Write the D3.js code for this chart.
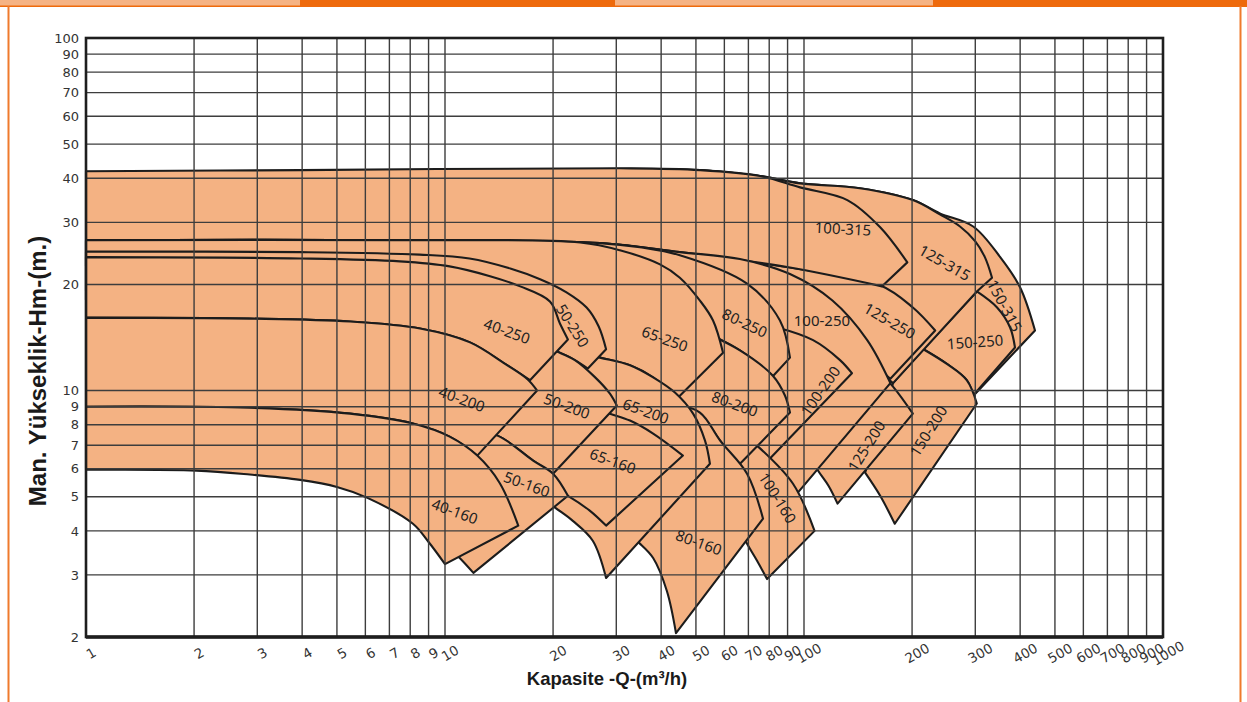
<!DOCTYPE html>
<html>
<head>
<meta charset="utf-8">
<script src="https://cdn.jsdelivr.net/npm/d3@7"></script>
<style>
  body { margin: 0; background: #fff; }
  svg { display: block; }
</style>
</head>
<body>
<div id="chart"></div>
<script>
// pump models, in drawing order (right-hand families first, big casings first)
const modelNames = ['150-315','150-250','150-200','125-315','125-250','125-200',
  '100-315','100-250','100-200','100-160','80-250','80-200','80-160',
  '65-250','65-200','65-160','50-250','50-200','50-160','40-250','40-200','40-160'];

// upper curve of each field, [Q m3/h, H m], left to right
const maxCurves = [
  [[51.3,42.2],[75.4,40.6],[97.5,38.7],[143,37.5],[201,34.7],[239,31.8],[296,29.2],[352,23.9],[400,19.6],[440,14.8]],
  [[303,19.1],[345,17.2],[375,15.1],[387,13.25]],
  [[215,13.1],[250,11.9],[284,10.7],[303,9.19]],
  [[27,42.5],[51.3,42.2],[75.4,40.6],[97.5,38.7],[143,37.5],[201,34.7],[239,31.6],[272,29.2],[300,26.5],[319,23.9],[334,20.9]],
  [[27,26.2],[45.1,24.7],[89.7,22.4],[163,19.9],[201,17.2],[232,14.8]],
  [[126,13.9],[153,12.0],[177,10.26],[201,8.6]],
  [[1,41.9],[3.95,42.2],[30.7,42.7],[51.3,42.2],[75.4,40.6],[97.5,37.7],[132,34.7],[163,29.05],[194,23.1]],
  [[1,26.7],[7.49,26.7],[27,26.2],[45.1,24.7],[66.3,23.6],[91.4,21.4],[120,18.0],[150,13.9],[174,10.5]],
  [[66.3,15.8],[84.1,15.1],[106,13.9],[126,12.2],[136,11.2]],
  [[60.2,8.22],[74,6.98],[93.2,5.44],[107,4.0]],
  [[1,26.7],[7.49,26.7],[27,26.2],[34.9,25.5],[45.1,24.2],[69.4,20.1],[85.7,15.8],[91.4,12.4]],
  [[51.3,14.8],[66.3,13.0],[82,11.0],[88.5,9.68],[91.4,8.66]],
  [[42.3,9.25],[51.3,8.66],[58.4,7.21],[69.4,5.81],[76.9,4.33]],
  [[1,26.7],[7.49,26.7],[23.8,26.3],[30.7,25.0],[39.7,22.8],[45.1,20.9],[51.3,18.0],[55.8,15.8],[59.5,12.8]],
  [[22.3,13.0],[27,12.4],[32.75,11.8],[38,10.9],[43.7,9.87],[49.1,8.6],[53,7.21],[54.7,6.2]],
  [[22.3,9.37],[28.8,8.6],[32.75,8.22],[38,7.55],[46,6.54]],
  [[1,24.8],[3.95,24.7],[8.5,24.3],[11.7,23.7],[15.2,22.2],[18.4,20.7],[21.8,19.0],[24.8,17.2],[26.8,15.2],[28.1,13.1]],
  [[16.2,14.15],[20.5,12.9],[23,12.2],[26.2,10.9],[28.8,9.8],[30.1,9.07]],
  [[11,7.8],[14,7.45],[17.6,6.33],[20,5.81],[22,5.03]],
  [[1,23.9],[3.95,23.7],[7.49,23.25],[10.3,22.5],[13.35,21.1],[16.2,19.75],[19.6,17.9],[20.9,15.5],[22,13.96]],
  [[1,16.1],[2.86,16.0],[5.44,15.7],[8.52,15.0],[11.74,13.7],[14.7,11.9],[17,10.75],[18.05,10]],
  [[1,9.0],[2.86,8.94],[5.44,8.6],[8.14,8.06],[10.3,7.4],[12.3,6.54],[14.2,5.47],[16,4.14]]
];

// extra corners on the right-hand edge (straight lines)
const edgeBends = [[],[],[],[[303,19.1],[177,10.5]],[],[],[],[],[],[],[],[],[],[],[],[],[],[],[],[],[],[]];

// lower curve of each field, right to left
const minCurves = [
  [[300,9.8],[255,11.7],[215,13.1],[163,14.8],[97.5,19.2],[51.3,25.0]],
  [[296,9.68],[284,10.7],[250,11.9],[215,13.1]],
  [[179,4.19],[163,5.03],[148,5.85]],
  [[163,11.25],[134,14.8],[97.5,19.2],[51.3,23.4],[27,26.2]],
  [[174,10.8],[143,12.8],[97.5,17.4],[51.3,21.2],[27,23.4]],
  [[124,4.78],[117,5.37],[109,5.96],[97.5,7.21]],
  [[165,19.75],[89.7,22.4],[45.1,24.7],[27,26.2],[7.49,26.7],[1,26.7]],
  [[95.6,5.1],[83,5.93],[58.4,9.37],[37.2,14.8],[19.6,18.0],[7.49,18.0],[1,18.0]],
  [[79.4,6.33],[68.5,7.45],[58.4,9.37]],
  [[78.9,2.92],[74,3.29],[69.4,3.675],[64.2,4.27],[60.2,4.87]],
  [[82,11.0],[66.3,13.0],[51.3,14.8],[27,18.0],[7.49,18.0],[1,18.0]],
  [[65.5,6.12],[58.4,7.21],[51.3,8.49],[41,9.07]],
  [[44,2.05],[41.5,2.70],[38,3.35],[34.7,3.70],[31.7,4.0]],
  [[44.3,9.49],[38,10.9],[32.75,11.8],[27,12.4],[22.3,13.0],[16.2,15.8],[7.49,19.2],[1,19.2]],
  [[28.1,2.94],[25.8,3.75],[22.7,4.27],[20.3,4.65],[18.4,5.03]],
  [[28.1,4.14],[25.35,4.56],[22,5.03],[19.4,5.37]],
  [[25,11.55],[23,12.2],[20.5,12.9],[16.2,14.15],[12.5,16.7],[7.49,20.8],[2.86,22.2],[1,22.5]],
  [[20,5.81],[17.6,6.33],[14,7.45],[11,7.8]],
  [[12,3.04],[10.9,3.38],[9.69,3.75],[9.08,4.0]],
  [[17.25,10.7],[14.7,11.9],[11.74,13.7],[8.52,15.0],[5.44,15.7],[2.86,16.0],[1,16.1]],
  [[12.3,6.54],[10.3,7.4],[8.14,8.06],[5.44,8.6],[2.86,8.94],[1,9.0]],
  [[10,3.22],[9.0,3.72],[8.14,4.19],[6.06,4.97],[5.0,5.33],[3.95,5.58],[2.86,5.78],[2.03,5.93],[1,5.96]]
];

// extra corners on the closing (left) edge
const leftBends = [[],[],[[177,10.5]],[],[],[],[],[],[],[],[],[],[],[],[],[],[],[],[],[],[],[]];

// label anchor [Q, H, rotation deg]
const labelSpots = [
  [363,17.44,62],[299.5,13.78,-4],[221.5,7.7,-58],[247,23.1,30],[173.6,15.81,30],[148.9,6.98,-58],
  [128.4,28.85,3],[112.2,15.9,0],[110.8,10,-55],[84.6,4.97,58],[68.5,15.6,25],[64.2,9.19,20],
  [51,3.72,20],[41,14.06,20],[36.3,8.77,20],[29.38,6.33,20],[22.72,15.3,58],[21.87,9.07,20],
  [16.92,5.44,20],[14.89,14.8,20],[11.15,9.49,20],[10.66,4.56,20]
];

const qTicks = [1,2,3,4,5,6,7,8,9,10,20,30,40,50,60,70,80,90,100,200,300,400,500,600,700,800,900,1000];
const hTicks = [2,3,4,5,6,7,8,9,10,20,30,40,50,60,70,80,90,100];

// layout
const fullWidth = 1247;
const fullHeight = 702;
const margin = { top: 38, left: 86 };
const width = 1077;
const height = 599;

const svg = d3.select('#chart').append('svg')
  .attr('width', fullWidth)
  .attr('height', fullHeight);

// page decoration: orange header strip and side rules
svg.append('rect').attr('x', 0).attr('y', 0).attr('width', fullWidth).attr('height', 7).attr('fill', '#ee6a0c');
svg.append('rect').attr('x', 0).attr('y', 0).attr('width', 300).attr('height', 5.5).attr('fill', '#f5b384');
svg.append('rect').attr('x', 615).attr('y', 0).attr('width', 318).attr('height', 5.5).attr('fill', '#f5b384');
svg.append('line').attr('x1', 8.5).attr('x2', 8.5).attr('y1', 6).attr('y2', fullHeight)
  .attr('stroke', '#ef7a2c').attr('stroke-width', 2);
svg.append('line').attr('x1', 1240.5).attr('x2', 1240.5).attr('y1', 6).attr('y2', fullHeight)
  .attr('stroke', '#ef7a2c').attr('stroke-width', 2);

const g = svg.append('g')
  .attr('transform', `translate(${margin.left},${margin.top})`);

const x = d3.scaleLog().domain([1, 1000]).range([0, width]);
const y = d3.scaleLog().domain([2, 100]).range([height, 0]);

const smooth = d3.line()
  .x(d => x(d[0]))
  .y(d => y(d[1]))
  .curve(d3.curveCatmullRom.alpha(0.5));

const pt = p => `L${x(p[0])},${y(p[1])}`;

function fieldPath(i) {
  const top = smooth(maxCurves[i]);
  const right = edgeBends[i].map(pt).join('');
  const bottom = smooth(minCurves[i]).replace(/^M/, 'L');
  const left = leftBends[i].map(pt).join('');
  return top + right + bottom + left + 'Z';
}

// fields
g.append('g').attr('class', 'fields')
  .selectAll('path')
  .data(modelNames)
  .join('path')
  .attr('d', (d, i) => fieldPath(i))
  .attr('fill', '#f4b283')
  .attr('stroke', '#1c1c1c')
  .attr('stroke-width', 2.1)
  .attr('stroke-linejoin', 'round');

// grid
const grid = g.append('g').attr('class', 'grid');
grid.selectAll('.vline')
  .data(qTicks.slice(1, -1))
  .join('line')
  .attr('x1', d => x(d)).attr('x2', d => x(d))
  .attr('y1', 0).attr('y2', height)
  .attr('stroke', '#3d3d3d').attr('stroke-width', 1.4);
grid.selectAll('.hline')
  .data(hTicks.slice(1, -1))
  .join('line')
  .attr('x1', 0).attr('x2', width)
  .attr('y1', d => y(d)).attr('y2', d => y(d))
  .attr('stroke', '#3d3d3d').attr('stroke-width', 1.4);

// frame
g.append('rect')
  .attr('x', 0).attr('y', 0).attr('width', width).attr('height', height)
  .attr('fill', 'none').attr('stroke', '#1e1e1e').attr('stroke-width', 2.6);
g.append('line')
  .attr('x1', 0).attr('x2', width).attr('y1', height).attr('y2', height)
  .attr('stroke', '#1e1e1e').attr('stroke-width', 3.4);

// field labels
g.append('g').attr('class', 'labels')
  .selectAll('text')
  .data(modelNames)
  .join('text')
  .attr('transform', (d, i) => `translate(${x(labelSpots[i][0])},${y(labelSpots[i][1])}) rotate(${labelSpots[i][2]})`)
  .attr('text-anchor', 'middle')
  .attr('dominant-baseline', 'central')
  .style('font-family', '"Noto Sans", sans-serif')
  .style('font-size', '15px')
  .attr('fill', '#222')
  .text(d => d);

// y tick labels
g.append('g').attr('class', 'y-ticks')
  .selectAll('text')
  .data(hTicks)
  .join('text')
  .attr('x', -7)
  .attr('y', d => y(d))
  .attr('dy', '0.36em')
  .attr('text-anchor', 'end')
  .style('font-family', '"DejaVu Sans", sans-serif')
  .style('font-size', '13px')
  .attr('fill', '#333')
  .text(d => d);

// x tick labels, tilted
g.append('g').attr('class', 'x-ticks')
  .selectAll('text')
  .data(qTicks)
  .join('text')
  .attr('transform', d => `translate(${x(d) + 5},${height + 16}) rotate(-30)`)
  .attr('text-anchor', 'middle')
  .attr('dominant-baseline', 'central')
  .style('font-family', '"DejaVu Sans", sans-serif')
  .style('font-size', '13.5px')
  .attr('fill', '#333')
  .text(d => d);

// axis titles
svg.append('text')
  .attr('x', 607)
  .attr('y', 685)
  .attr('text-anchor', 'middle')
  .style('font-family', '"Liberation Sans", Arial, sans-serif')
  .style('font-weight', 'bold')
  .style('font-size', '18.5px')
  .attr('fill', '#1a1a1a')
  .text('Kapasite -Q-(m³/h)');

svg.append('text')
  .attr('transform', 'translate(46,371) rotate(-90)')
  .attr('text-anchor', 'middle')
  .style('font-family', '"Liberation Sans", Arial, sans-serif')
  .style('font-weight', 'bold')
  .style('font-size', '24px')
  .attr('fill', '#1a1a1a')
  .text('Man. Yükseklik-Hm-(m.)');
</script>
</body>
</html>
